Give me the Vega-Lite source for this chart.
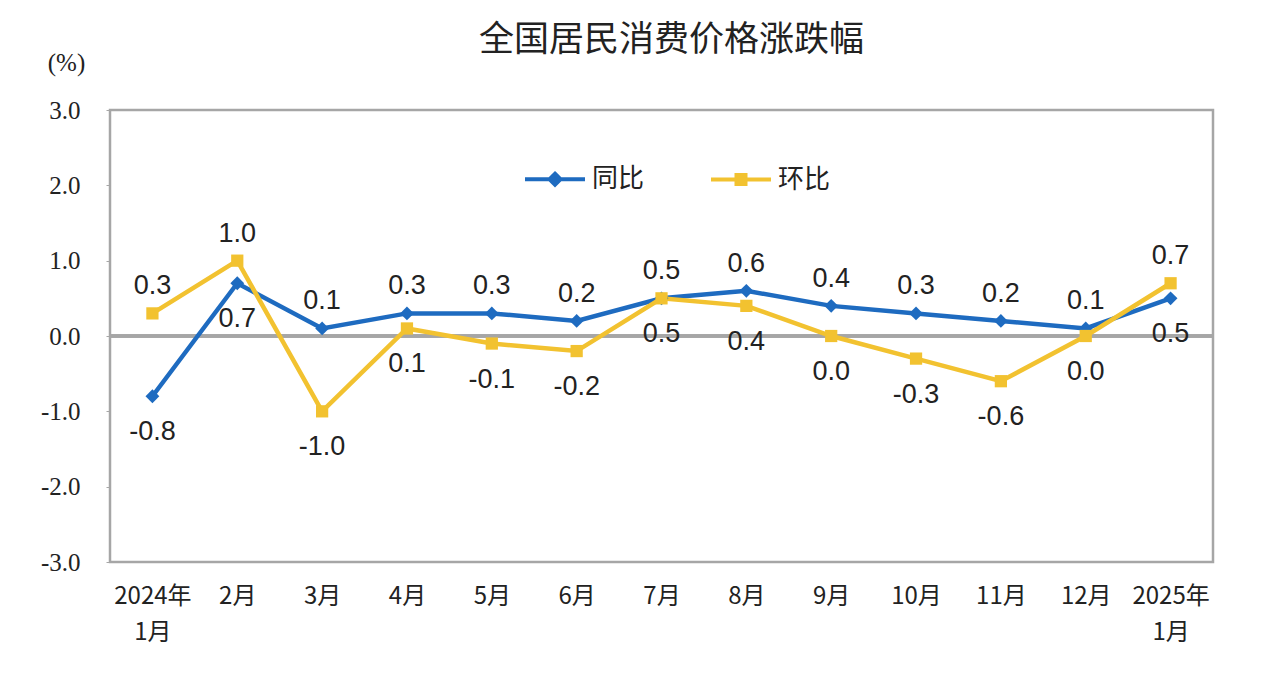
{
  "$schema": "https://vega.github.io/schema/vega-lite/v6.json",
  "width": 1103,
  "height": 452,
  "autosize": "none",
  "padding": {"left": 110, "top": 110, "right": 51, "bottom": 128},
  "background": "white",
  "config": {
    "view": {"stroke": "#a6a6a6", "strokeWidth": 2.5},
    "axis": {"grid": false, "domain": false},
    "locale": {"number": {"decimal": ".", "thousands": ",", "grouping": [3], "currency": ["", ""], "minus": "-"}}
  },
  "title": {
    "text": "全国居民消费价格涨跌幅",
    "font": "Noto Sans CJK SC",
    "fontSize": 35,
    "fontWeight": "normal",
    "color": "#222222",
    "anchor": "middle",
    "frame": "group",
    "dx": 10,
    "offset": -8
  },
  "data": {
    "values": [
      {"month": "2024年1月", "series": "同比", "value": -0.8},
      {"month": "2月", "series": "同比", "value": 0.7},
      {"month": "3月", "series": "同比", "value": 0.1},
      {"month": "4月", "series": "同比", "value": 0.3},
      {"month": "5月", "series": "同比", "value": 0.3},
      {"month": "6月", "series": "同比", "value": 0.2},
      {"month": "7月", "series": "同比", "value": 0.5},
      {"month": "8月", "series": "同比", "value": 0.6},
      {"month": "9月", "series": "同比", "value": 0.4},
      {"month": "10月", "series": "同比", "value": 0.3},
      {"month": "11月", "series": "同比", "value": 0.2},
      {"month": "12月", "series": "同比", "value": 0.1},
      {"month": "2025年1月", "series": "同比", "value": 0.5},
      {"month": "2024年1月", "series": "环比", "value": 0.3},
      {"month": "2月", "series": "环比", "value": 1.0},
      {"month": "3月", "series": "环比", "value": -1.0},
      {"month": "4月", "series": "环比", "value": 0.1},
      {"month": "5月", "series": "环比", "value": -0.1},
      {"month": "6月", "series": "环比", "value": -0.2},
      {"month": "7月", "series": "环比", "value": 0.5},
      {"month": "8月", "series": "环比", "value": 0.4},
      {"month": "9月", "series": "环比", "value": 0.0},
      {"month": "10月", "series": "环比", "value": -0.3},
      {"month": "11月", "series": "环比", "value": -0.6},
      {"month": "12月", "series": "环比", "value": 0.0},
      {"month": "2025年1月", "series": "环比", "value": 0.7}
    ]
  },
  "encoding": {
    "x": {
      "field": "month",
      "type": "nominal",
      "sort": ["2024年1月", "2月", "3月", "4月", "5月", "6月", "7月", "8月", "9月", "10月", "11月", "12月", "2025年1月"],
      "scale": {"type": "point", "padding": 0.5},
      "axis": {
        "title": null,
        "ticks": false,
        "labelAngle": 0,
        "labelFont": "Noto Sans CJK SC",
        "labelFontSize": 24,
        "labelColor": "#222222",
        "labelPadding": 22,
        "labelLineHeight": 36,
        "labelExpr": "length(datum.label) > 4 ? [slice(datum.label, 0, 5), slice(datum.label, 5)] : datum.label"
      }
    },
    "y": {
      "field": "value",
      "type": "quantitative",
      "scale": {"domain": [-3, 3], "nice": false, "zero": false},
      "axis": {
        "values": [-3, -2, -1, 0, 1, 2, 3],
        "format": ".1f",
        "title": "(%)",
        "titleAngle": 0,
        "titleX": -44,
        "titleY": -48,
        "titleAlign": "center",
        "titleBaseline": "middle",
        "titleFont": "Liberation Serif",
        "titleFontSize": 25,
        "titleFontWeight": "normal",
        "titleColor": "#222222",
        "ticks": true,
        "tickSize": 4,
        "tickColor": "#a6a6a6",
        "labelFont": "Liberation Serif",
        "labelFontSize": 25,
        "labelColor": "#222222",
        "labelPadding": 26
      }
    }
  },
  "layer": [
    {
      "mark": {"type": "rule", "color": "#a6a6a6", "strokeWidth": 2.5},
      "encoding": {"y": {"datum": 0}, "x": null}
    },
    {
      "mark": {"type": "line", "strokeWidth": 4.5},
      "encoding": {
        "color": {
          "field": "series",
          "type": "nominal",
          "scale": {"domain": ["同比", "环比"], "range": ["#1E6BC0", "#F2C230"]},
          "legend": {
            "orient": "none",
            "legendX": 432,
            "legendY": 56,
            "direction": "horizontal",
            "title": null,
            "padding": 0,
            "symbolSize": 400,
            "symbolStrokeWidth": 4,
            "labelFont": "Noto Sans CJK SC",
            "labelFontSize": 26,
            "labelColor": "#222222",
            "labelOffset": 24,
            "columnPadding": 58,
            "encode": {
              "symbols": {
                "update": {
                  "shape": {"signal": "datum.value === '同比' ? 'M-3,0L3,0M0,-0.55L0.55,0L0,0.55L-0.55,0Z' : 'M-3,0L3,0M-0.45,-0.45L0.45,-0.45L0.45,0.45L-0.45,0.45Z'"},
                  "fill": {"scale": "color", "field": "value"},
                  "stroke": {"scale": "color", "field": "value"},
                  "opacity": {"value": 1}
                }
              }
            }
          }
        }
      }
    },
    {
      "transform": [{"filter": "datum.series === '同比'"}],
      "mark": {"type": "point", "shape": "diamond", "filled": true, "size": 190, "color": "#1E6BC0", "opacity": 1}
    },
    {
      "transform": [{"filter": "datum.series === '环比'"}],
      "mark": {"type": "point", "shape": "square", "filled": true, "size": 150, "color": "#F2C230", "opacity": 1}
    },
    {
      "transform": [
        {"window": [{"op": "row_number", "as": "rank"}], "groupby": ["month"], "sort": [{"field": "value", "order": "descending"}, {"field": "series", "order": "ascending"}]},
        {"filter": "datum.rank === 1"}
      ],
      "mark": {"type": "text", "font": "Liberation Sans", "fontSize": 27, "color": "#222222", "baseline": "middle", "dy": -27},
      "encoding": {"text": {"field": "value", "type": "quantitative", "format": ".1f"}}
    },
    {
      "transform": [
        {"window": [{"op": "row_number", "as": "rank"}], "groupby": ["month"], "sort": [{"field": "value", "order": "descending"}, {"field": "series", "order": "ascending"}]},
        {"filter": "datum.rank === 2"}
      ],
      "mark": {"type": "text", "font": "Liberation Sans", "fontSize": 27, "color": "#222222", "baseline": "middle", "dy": 36},
      "encoding": {"text": {"field": "value", "type": "quantitative", "format": ".1f"}}
    }
  ]
}
